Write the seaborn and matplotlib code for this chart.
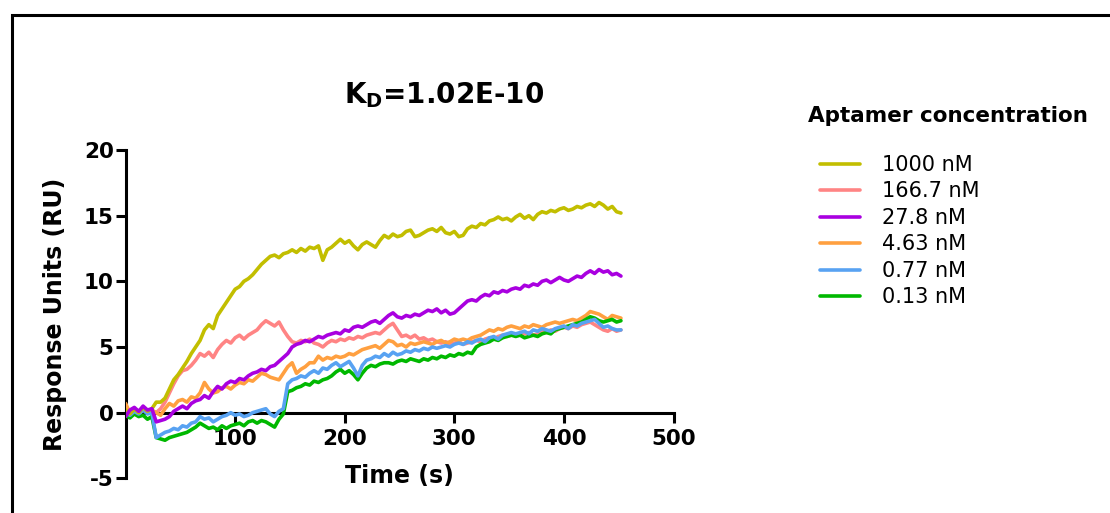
import numpy as np
import pandas as pd
import matplotlib
matplotlib.use("Agg")
import matplotlib.pyplot as plt
from matplotlib.lines import Line2D
from matplotlib.patches import Rectangle
import seaborn as sns

STEP_S = 4
conc_labels = ["1000 nM", "166.7 nM", "27.8 nM", "4.63 nM", "0.77 nM", "0.13 nM"]
conc_colors = ["#C2BE00", "#FF8484", "#A900E0", "#FFA040", "#58A2F2", "#00B800"]

ru_1000 = [0.2, -0.1, 0.3, 0.0, 0.4, 0.1, 0.3, 0.8, 0.8, 1.1,
           1.8, 2.5, 2.9, 3.4, 3.9, 4.5, 5.0, 5.5, 6.3, 6.7,
           6.4, 7.4, 7.9, 8.4, 8.9, 9.4, 9.6, 10.0, 10.2, 10.5,
           10.9, 11.3, 11.6, 11.9, 12.0, 11.8, 12.1, 12.2, 12.4, 12.2,
           12.5, 12.3, 12.6, 12.5, 12.7, 11.6, 12.4, 12.6, 12.9, 13.2,
           12.9, 13.1, 12.7, 12.4, 12.8, 13.0, 12.8, 12.6, 13.1, 13.5,
           13.3, 13.6, 13.4, 13.5, 13.8, 13.9, 13.4, 13.5, 13.7, 13.9,
           14.0, 13.8, 14.1, 13.7, 13.6, 13.8, 13.4, 13.5, 14.0, 14.2,
           14.1, 14.4, 14.3, 14.6, 14.7, 14.9, 14.7, 14.8, 14.6, 14.9,
           15.1, 14.8, 15.0, 14.7, 15.1, 15.3, 15.2, 15.4, 15.3, 15.5,
           15.6, 15.4, 15.5, 15.7, 15.6, 15.8, 15.9, 15.7, 16.0, 15.8,
           15.5, 15.7, 15.3, 15.2]

ru_166 = [0.1, -0.2, 0.2, 0.0, 0.3, 0.2, 0.1, 0.0, 0.3, 0.8,
          1.5, 2.2, 2.8, 3.2, 3.3, 3.6, 4.0, 4.5, 4.3, 4.6,
          4.2, 4.8, 5.2, 5.5, 5.3, 5.7, 5.9, 5.6, 5.9, 6.1,
          6.3, 6.7, 7.0, 6.8, 6.6, 6.9, 6.3, 5.8, 5.4, 5.3,
          5.5, 5.4, 5.6, 5.3, 5.2, 5.0, 5.3, 5.5, 5.4, 5.6,
          5.5, 5.7, 5.6, 5.8, 5.7, 5.9, 6.0, 6.1, 6.0, 6.3,
          6.6, 6.8, 6.3, 5.8, 5.9, 5.7, 5.9, 5.6, 5.7, 5.5,
          5.6, 5.4, 5.3, 5.4, 5.2, 5.3, 5.4, 5.2, 5.3, 5.4,
          5.5, 5.4, 5.6, 5.7, 5.6, 5.8, 5.9, 5.8, 5.9, 6.0,
          5.9, 6.0, 6.1, 5.9, 6.0, 6.2, 6.1, 6.3, 6.2, 6.4,
          6.5, 6.4, 6.6, 6.5, 6.7, 6.8, 6.9, 6.7, 6.5, 6.3,
          6.2, 6.4, 6.2, 6.3]

ru_27 = [-0.3, 0.2, 0.4, 0.1, 0.5, 0.2, 0.3, -0.7, -0.6, -0.5,
         -0.3, 0.1, 0.3, 0.5, 0.3, 0.7, 0.9, 1.0, 1.3, 1.1,
         1.6, 2.0, 1.8, 2.2, 2.4, 2.3, 2.6, 2.5, 2.8, 3.0,
         3.1, 3.3, 3.2, 3.5, 3.6, 3.9, 4.2, 4.5, 5.0, 5.2,
         5.3, 5.5, 5.4, 5.6, 5.8, 5.7, 5.9, 6.0, 6.1, 6.0,
         6.3, 6.2, 6.5, 6.6, 6.5, 6.7, 6.9, 7.0, 6.8, 7.1,
         7.4, 7.6, 7.3, 7.2, 7.4, 7.3, 7.5, 7.4, 7.6, 7.8,
         7.7, 7.9, 7.6, 7.8, 7.5, 7.6, 7.9, 8.2, 8.5, 8.6,
         8.5, 8.8, 9.0, 8.9, 9.2, 9.1, 9.3, 9.2, 9.4, 9.5,
         9.4, 9.7, 9.6, 9.8, 9.7, 10.0, 10.1, 9.9, 10.1, 10.3,
         10.1, 10.0, 10.2, 10.4, 10.3, 10.6, 10.8, 10.6, 10.9, 10.7,
         10.8, 10.5, 10.6, 10.4]

ru_4_63 = [0.7, 0.0, 0.2, -0.2, 0.3, 0.0, 0.2, 0.0, -0.2, 0.3,
           0.7, 0.5, 0.9, 1.0, 0.8, 1.2, 1.1, 1.5, 2.3, 1.8,
           1.5, 1.6, 1.9, 2.0, 1.8, 2.1, 2.3, 2.2, 2.5, 2.4,
           2.7, 3.0, 2.9, 2.7, 2.6, 2.5, 3.0, 3.5, 3.8, 3.0,
           3.3, 3.5, 3.8, 3.8, 4.3, 4.0, 4.2, 4.1, 4.3, 4.2,
           4.3, 4.5, 4.4, 4.6, 4.8, 4.9, 5.0, 5.1, 4.9, 5.2,
           5.5, 5.4, 5.1, 5.2, 5.0, 5.3, 5.2, 5.3, 5.4, 5.3,
           5.2, 5.4, 5.5, 5.3, 5.4, 5.6, 5.5, 5.6, 5.5, 5.7,
           5.8, 5.9, 6.1, 6.3, 6.2, 6.4, 6.3, 6.5, 6.6, 6.5,
           6.4, 6.6, 6.5, 6.7, 6.6, 6.5, 6.7, 6.8, 6.9, 6.8,
           6.9, 7.0, 7.1, 7.0, 7.2, 7.4, 7.7, 7.6, 7.5, 7.3,
           7.1, 7.4, 7.3, 7.2]

ru_0_77 = [0.0, -0.2, 0.1, -0.1, 0.2, -0.1, 0.0, -1.9, -1.7, -1.5,
           -1.4, -1.2, -1.3, -1.0, -1.1, -0.8, -0.7, -0.3, -0.5, -0.4,
           -0.7, -0.5, -0.3, -0.2, 0.0, -0.2, -0.1, -0.3, -0.2, 0.0,
           0.1, 0.2, 0.3, -0.1, -0.3, 0.1, 0.3, 2.2, 2.5, 2.6,
           2.8, 2.7, 3.0, 3.2, 3.0, 3.4, 3.3, 3.6, 3.8, 3.5,
           3.7, 3.9, 3.4, 2.8, 3.6, 4.0, 4.1, 4.3, 4.2, 4.5,
           4.3, 4.6, 4.4, 4.5, 4.7, 4.6, 4.8, 4.7, 4.9, 4.8,
           5.0, 4.9, 5.0, 5.1, 5.0, 5.2, 5.3, 5.2, 5.4, 5.3,
           5.5, 5.6, 5.4, 5.7, 5.8, 5.6, 5.9, 6.0, 6.1, 6.0,
           6.1, 6.2, 6.0, 6.3, 6.2, 6.4, 6.3, 6.2, 6.4, 6.5,
           6.6, 6.4, 6.7, 6.6, 6.8, 6.9, 7.0, 7.1, 6.8, 6.5,
           6.6, 6.4, 6.3, 6.3]

ru_0_13 = [-0.2, -0.4, -0.1, -0.3, -0.2, -0.5, -0.3, -1.9, -2.0, -2.1,
           -1.9, -1.8, -1.7, -1.6, -1.5, -1.3, -1.1, -0.8, -1.0, -1.2,
           -1.1, -1.3, -1.0, -1.2, -1.0, -0.9, -0.8, -1.0, -0.7, -0.6,
           -0.8, -0.6, -0.7, -0.9, -1.1, -0.5, -0.1, 1.6, 1.7, 1.9,
           2.0, 2.2, 2.1, 2.4, 2.3, 2.5, 2.6, 2.8, 3.1, 3.3,
           3.0, 3.2, 2.9, 2.5, 3.0, 3.4, 3.6, 3.5, 3.7, 3.8,
           3.8, 3.7, 3.9, 4.0, 3.9, 4.1, 4.0, 3.9, 4.1, 4.0,
           4.2, 4.1, 4.3, 4.2, 4.4, 4.3, 4.5, 4.4, 4.6, 4.5,
           5.0, 5.2, 5.3, 5.4, 5.6, 5.5, 5.7, 5.8, 5.9, 5.8,
           5.9, 5.7, 5.8, 5.9, 5.8, 6.0, 6.1, 6.0, 6.3, 6.4,
           6.5, 6.6, 6.7, 6.8, 6.9, 7.1, 7.3, 7.2, 7.0, 6.9,
           7.0, 7.1, 6.9, 7.0]

x_ticks = [100, 200, 300, 400, 500]
y_ticks = [-5, 0, 5, 10, 15, 20]

series = [ru_1000, ru_166, ru_27, ru_4_63, ru_0_77, ru_0_13]
frames = []
for lab, vals in zip(conc_labels, series):
    frames.append(pd.DataFrame({"Time": np.arange(len(vals)) * STEP_S,
                                "RU": vals, "Conc": lab}))
df = pd.concat(frames, ignore_index=True)

# ---------------- figure ----------------
sns.set_style("ticks")
plt.rcParams["font.family"] = ["DejaVu Sans"]
plt.rcParams["text.color"] = "black"
plt.rcParams["axes.labelcolor"] = "black"
plt.rcParams["xtick.color"] = "black"
plt.rcParams["ytick.color"] = "black"
plt.rcParams["axes.unicode_minus"] = False

fig = plt.figure(figsize=(11.1, 5.13), dpi=100)
ax = fig.add_axes([0.1131, 0.0676, 0.4937, 0.640])

palette = dict(zip(conc_labels, conc_colors))
sns.lineplot(data=df, x="Time", y="RU", hue="Conc", hue_order=conc_labels,
             palette=palette, estimator=None, sort=False, linewidth=2.6,
             legend=False, ax=ax)

zorders = {"166.7 nM": 3.0, "4.63 nM": 3.1, "0.13 nM": 3.2,
           "0.77 nM": 3.3, "1000 nM": 3.4, "27.8 nM": 3.5}
for line, lab in zip(ax.lines, conc_labels):
    line.set_zorder(zorders[lab])

ax.set_xlim(0, 500)
ax.set_ylim(-5, 20)
ax.set_xticks(x_ticks)
ax.set_yticks(y_ticks)
for side in ["top", "right"]:
    ax.spines[side].set_visible(False)
ax.spines["bottom"].set_position(("data", 0))
for side in ["bottom", "left"]:
    ax.spines[side].set_linewidth(2.2)
    ax.spines[side].set_color("black")
ax.tick_params(axis="both", direction="out", length=7.5, width=2.2,
               colors="black", labelsize=15.5)
ax.tick_params(axis="y", pad=1)
ax.tick_params(axis="x", pad=4)
for tl in ax.get_xticklabels() + ax.get_yticklabels():
    tl.set_fontweight("bold")
    tl.set_color("black")

ax.set_xlabel("Time (s)", fontsize=17, fontweight="bold", color="black")
ax.xaxis.set_label_coords(0.5, 0.045)
ax.set_ylabel("Response Units (RU)", fontsize=17, fontweight="bold", color="black")
ax.yaxis.set_label_coords(-0.107, 0.5)

# title
fig.text(444 / 1110, 1 - 103 / 513, r"$\mathbf{K_D}$=1.02E-10",
         ha="center", va="baseline", fontsize=20, fontweight="bold", color="black")

# legend
fig.text(808 / 1110, 1 - 121.5 / 513, "Aptamer concentration",
         ha="left", va="baseline", fontsize=15.5, fontweight="bold", color="black")
handles = [Line2D([], [], color=c, linewidth=2.6) for c in conc_colors]
leg = ax.legend(handles, conc_labels, loc="upper left",
                bbox_to_anchor=(820 / 1110, 1 - 155 / 513),
                bbox_transform=fig.transFigure, frameon=False, fontsize=15,
                handlelength=1.92, handletextpad=1.06, labelspacing=0.31,
                borderpad=0, borderaxespad=0)
for t in leg.get_texts():
    t.set_color("black")

# outer frame (partially cropped box)
fig.add_artist(Rectangle((12 / 1110, -0.2), 2.0, 1.2 - 15 / 513,
                         transform=fig.transFigure, fill=False,
                         edgecolor="black", linewidth=2.2))

fig.savefig("out.png", dpi=100)
